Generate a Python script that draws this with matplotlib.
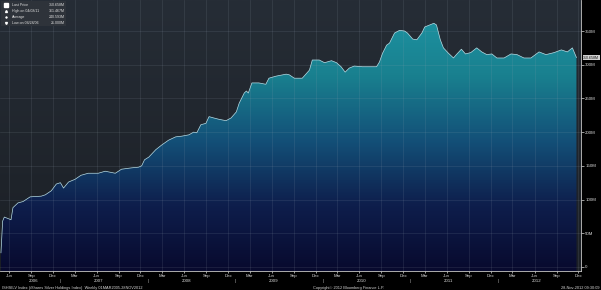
import numpy as np
import pandas as pd
import matplotlib
matplotlib.use("Agg")
import matplotlib.pyplot as plt
import matplotlib.dates as mdates
from matplotlib.colors import LinearSegmentedColormap

plt.rcParams["font.family"] = ["Liberation Sans", "DejaVu Sans"]

# iShares silver holdings, weekly (millions of oz)
dates = [
    "2006-04-28", "2006-05-05", "2006-05-12", "2006-05-26", "2006-06-09", "2006-06-17",
    "2006-07-08", "2006-07-29", "2006-08-28", "2006-10-13", "2006-10-30", "2006-11-24",
    "2006-12-15", "2007-01-01", "2007-01-14", "2007-02-04", "2007-03-03", "2007-03-28",
    "2007-04-27", "2007-06-08", "2007-07-07", "2007-08-18", "2007-09-13", "2007-10-25",
    "2007-11-23", "2007-12-06", "2007-12-18", "2008-01-05", "2008-02-03", "2008-02-28",
    "2008-03-27", "2008-04-26", "2008-05-21", "2008-06-20", "2008-07-10", "2008-07-23",
    "2008-08-09", "2008-08-30", "2008-09-12", "2008-10-02", "2008-10-24", "2008-11-22",
    "2008-12-13", "2009-01-04", "2009-01-16", "2009-02-06", "2009-02-15", "2009-02-23",
    "2009-03-10", "2009-04-08", "2009-05-07", "2009-05-20", "2009-06-18", "2009-07-31",
    "2009-08-13", "2009-09-03", "2009-10-06", "2009-11-05", "2009-11-17", "2009-12-16",
    "2010-01-07", "2010-02-05", "2010-02-26", "2010-03-17", "2010-04-03", "2010-04-20",
    "2010-05-11", "2010-06-14", "2010-07-13", "2010-08-12", "2010-08-24", "2010-09-06",
    "2010-09-23", "2010-10-05", "2010-10-26", "2010-11-16", "2010-12-07", "2010-12-19",
    "2011-01-10", "2011-01-27", "2011-02-17", "2011-03-01", "2011-04-08", "2011-04-19",
    "2011-05-05", "2011-05-18", "2011-06-08", "2011-06-29", "2011-07-11", "2011-08-01",
    "2011-08-18", "2011-09-09", "2011-10-04", "2011-10-25", "2011-11-15", "2011-12-06",
    "2011-12-27", "2012-01-26", "2012-02-24", "2012-03-20", "2012-04-18", "2012-05-17",
    "2012-06-20", "2012-07-19", "2012-08-22", "2012-09-21", "2012-10-16", "2012-11-06",
    "2012-11-23",
]
holdings = [
    21, 68, 74, 72, 70, 88,
    95, 97, 104, 105, 107, 113,
    123, 125, 117, 126, 130, 136,
    139, 139, 142, 139, 145, 147,
    148, 150, 159, 163, 174, 181,
    188, 193, 194, 196, 200, 199,
    211, 213, 223, 221, 219, 217,
    221, 230, 243, 258, 261, 258,
    273, 273, 271, 280, 283, 286,
    285, 280, 280, 292, 307, 307,
    303, 306, 303, 297, 289, 295,
    298, 297, 297, 297, 304, 317,
    329, 332, 347, 351, 350, 347,
    338, 337, 347, 356, 361.467, 359,
    337, 325, 317, 310, 315, 323,
    316, 318, 325, 319, 315, 316,
    310, 310, 316, 315, 310, 310,
    319, 315, 318, 322, 319, 325,
    310.658,
]

legend_lines = [
    ("Last Price", "310.658M"),
    ("High on 04/08/11", "361.467M"),
    ("Average", "240.593M"),
    ("Low on 04/28/06", "21.000M"),
]
y_ticks = [0, 50, 100, 150, 200, 250, 300, 350]
years = [2006, 2007, 2008, 2009, 2010, 2011, 2012]

x = pd.to_datetime(dates)
y = np.array(holdings)

fig = plt.figure(figsize=(6.01, 2.90), dpi=100, facecolor="black")
ax = fig.add_axes([0, 19 / 290, 581 / 601, 271 / 290])
x0 = mdates.date2num(pd.Timestamp("2006-04-24"))
x1 = mdates.date2num(pd.Timestamp("2012-12-12"))
ax.set_xlim(x0, x1)
ax.set_ylim(-6, 396)

# background above the curve
bg = LinearSegmentedColormap.from_list("bg", ["#1b1f25", "#262d36"])
ax.imshow(np.linspace(0, 1, 100).reshape(-1, 1), cmap=bg, aspect="auto",
          extent=[x0, x1, -6, 396], origin="lower", zorder=0)

# gradient fill under the curve
fillmap = LinearSegmentedColormap.from_list(
    "fill", ["#080a2e", "#0e1e4c", "#135078", "#19808f", "#1d94a2"])
poly = ax.fill_between(x, y, -6, color="none", zorder=1)
grad = ax.imshow(np.linspace(0, 1, 200).reshape(-1, 1), cmap=fillmap, aspect="auto",
                 extent=[x0, x1, -6, 380], origin="lower", zorder=1)
grad.set_clip_path(poly.get_paths()[0], transform=ax.transData)
ax.plot(x, y, color="#b8dde6", lw=0.5, zorder=3)

# grid
qticks = pd.date_range("2006-06-01", "2012-12-01", freq="3MS")
for d in qticks:
    ax.axvline(mdates.date2num(d), color="#9aa6b4", lw=0.5, alpha=0.18, zorder=2)
for v in y_ticks:
    ax.axhline(v, color="#9aa6b4", lw=0.5, alpha=0.18, zorder=2)

for s in ["top", "left"]:
    ax.spines[s].set_visible(False)
for s in ["right", "bottom"]:
    ax.spines[s].set_color("#c8c8c8")
    ax.spines[s].set_linewidth(0.6)

ax.yaxis.tick_right()
ax.set_yticks(y_ticks)
ax.set_yticklabels([f"{v}M" if v else "0" for v in y_ticks])
ax.tick_params(axis="y", colors="#d8d8d8", labelsize=3.2, length=2, width=0.5, pad=1)

ax.set_xticks([mdates.date2num(d) for d in qticks])
ax.set_xticklabels([d.strftime("%b") for d in qticks])
ax.tick_params(axis="x", colors="#d8d8d8", labelsize=3.2, length=1.5, width=0.5, pad=1)

# year labels and separators
for yr in years:
    c = mdates.date2num(pd.Timestamp(f"{yr}-06-10"))
    if yr == 2006:
        c = mdates.date2num(pd.Timestamp("2006-09-10"))
    ax.text(c, -10 / 271, str(yr), transform=ax.get_xaxis_transform(), color="#d8d8d8",
            fontsize=3.2, ha="center", va="center")
    if yr > 2006:
        ax.text(mdates.date2num(pd.Timestamp(f"{yr}-01-01")), -10 / 271, "|",
                transform=ax.get_xaxis_transform(), color="#bbbbbb", fontsize=3.2,
                ha="center", va="center")

# last price tag
ax.text(1.004, (310.658 + 6) / 402, "310.658M", transform=ax.transAxes, fontsize=2.6,
        color="#111111", va="center", ha="left",
        bbox=dict(boxstyle="square,pad=0.1", fc="#d0d0d0", ec="none"), clip_on=False)

# legend box
ax.add_patch(plt.Rectangle((0.002, 0.905), 0.112, 0.09, transform=ax.transAxes,
                           fc="#2e333a", ec="none", zorder=5))
markers = ["s", "^", "+", "v"]
for i, (lab, val) in enumerate(legend_lines):
    ty = 0.982 - i * 0.022
    ax.plot(0.011, ty, marker=markers[i], ms=1.4 if i else 2.4, color="white",
            transform=ax.transAxes, zorder=6, clip_on=False)
    ax.text(0.02, ty, lab, transform=ax.transAxes, fontsize=2.6, color="#e0e0e0",
            va="center", ha="left", zorder=6)
    ax.text(0.111, ty, val, transform=ax.transAxes, fontsize=2.6, color="#e0e0e0",
            va="center", ha="right", zorder=6)

# footer
fig.text(0.003, 0.0, "ISHSILV Index (iShares Silver Holdings Index)  Weekly 01MAR2005-28NOV2012",
         fontsize=2.8, color="#d8d8d8", ha="left", va="bottom")
fig.text(0.52, 0.0, "Copyright\u00a9 2012 Bloomberg Finance L.P.",
         fontsize=2.8, color="#d8d8d8", ha="left", va="bottom")
fig.text(0.998, 0.0, "28-Nov-2012 09:30:09",
         fontsize=2.8, color="#d8d8d8", ha="right", va="bottom")

fig.savefig("out.png", dpi=100, facecolor="black")
